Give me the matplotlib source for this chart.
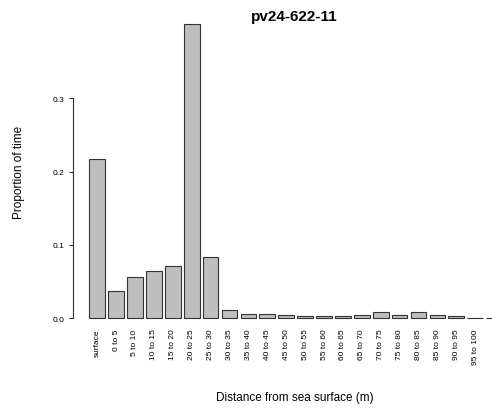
import matplotlib
matplotlib.use("Agg")
import matplotlib.pyplot as plt
import numpy as np

categories = ["surface", "0 to 5", "5 to 10", "10 to 15", "15 to 20", "20 to 25",
              "25 to 30", "30 to 35", "35 to 40", "40 to 45", "45 to 50", "50 to 55",
              "55 to 60", "60 to 65", "65 to 70", "70 to 75", "75 to 80", "80 to 85",
              "85 to 90", "90 to 95", "95 to 100", ""]
values = [0.2166, 0.0377, 0.0559, 0.0640, 0.0713, 0.4005,
          0.0831, 0.0109, 0.0054, 0.0054, 0.0041, 0.0032,
          0.0032, 0.0032, 0.0041, 0.0082, 0.0041, 0.0086,
          0.0041, 0.0030, 0.0005, 0.0005]
yticks = [0.0, 0.1, 0.2, 0.3]
ytick_labels = ["0.0", "0.1", "0.2", "0.3"]
title = "pv24-622-11"
xlabel = "Distance from sea surface (m)"
ylabel = "Proportion of time"

plt.rcParams['font.family'] = ['Liberation Sans', 'DejaVu Sans']

fig = plt.figure(figsize=(4.92, 4.10), dpi=100)
W, H = 492, 410
left_px, right_px, top_px, bot_px = 72.8, 518.5, 13.6, 331.0
ax = fig.add_axes([left_px / W, 1 - bot_px / H, (right_px - left_px) / W, (bot_px - top_px) / H])

n = len(categories)
x = 0.7 + 1.2 * np.arange(n)
ax.bar(x, values, width=1.0, color="#bebebe", edgecolor="#333333", linewidth=0.8)

span = x[-1] + 0.5 - 0.2
ax.set_xlim(0.2 - 0.04 * span, x[-1] + 0.5 + 0.04 * span)
ax.set_ylim(-0.016, 0.4166)

for s in ["top", "right", "bottom"]:
    ax.spines[s].set_visible(False)
ax.spines["left"].set_bounds(0, 0.3)
ax.spines["left"].set_linewidth(0.8)
ax.spines["left"].set_color("#333333")

ax.set_yticks(yticks)
ax.set_yticklabels(ytick_labels)
ax.tick_params(axis="y", length=3, width=0.8, color="#333333", labelsize=6, pad=3)
ax.set_xticks(x)
ax.set_xticklabels(categories, rotation=90, fontsize=6)
ax.tick_params(axis="x", length=0, pad=-1)

fig.text(294 / W, 1 - 17 / H, title, ha="center", va="center", fontsize=11, fontweight="bold")
fig.text(295 / W, 1 - 398 / H, xlabel, ha="center", va="center", fontsize=8.5)
fig.text(19.5 / W, 1 - 172.5 / H, ylabel, ha="center", va="center", fontsize=8.5, rotation=90)

fig.savefig("out.png", dpi=100)
